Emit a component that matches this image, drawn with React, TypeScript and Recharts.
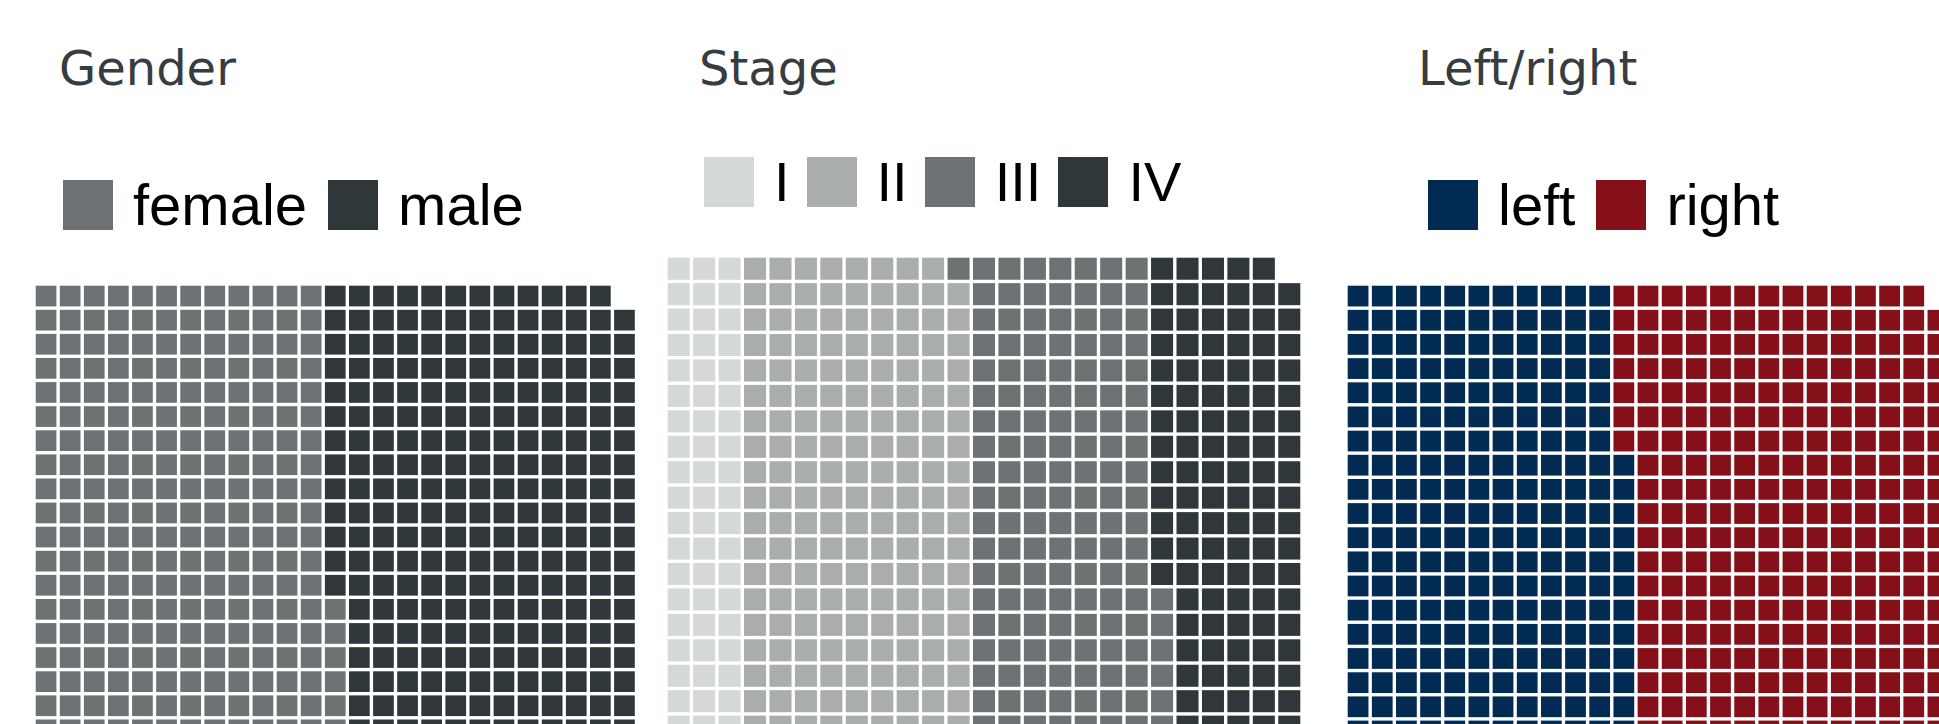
import { Scatter, ScatterChart, XAxis, YAxis } from "recharts";

// waffle grid: 25 x 25, filled bottom-up, column by column, left to right
const ROWS = 25;
const COLS = 25;
const GAP = 3.4;

const genderLabels = ["female", "male"];
const genderCounts = [312, 312];
const genderColors = ["#6d7274", "#30373a"];

const stageLabels = ["I", "II", "III", "IV"];
const stageCounts = [75, 224, 188, 137];
const stageColors = ["#d5d8d8", "#a9adae", "#6d7274", "#30373a"];

const sideLabels = ["left", "right"];
const sideCounts = [293, 331];
const sideColors = ["#022b54", "#85101a"];

interface Cell {
  col: number;
  row: number;
}

function buildCells(counts: number[]): Cell[][] {
  let i = 0;
  return counts.map((n) => {
    const pts: Cell[] = [];
    for (let k = 0; k < n; k++) {
      pts.push({ col: Math.floor(i / ROWS), row: ROWS - 1 - (i % ROWS) });
      i++;
    }
    return pts;
  });
}

interface WaffleProps {
  title: string;
  labels: string[];
  counts: number[];
  colors: string[];
  titleLeft: number;
  legendLeft: number;
  legendTop: number;
  legendFont: number;
  itemGap: number;
  gridLeft: number;
  gridTop: number;
  pitch: number;
}

function Waffle({
  title,
  labels,
  counts,
  colors,
  titleLeft,
  legendLeft,
  legendTop,
  legendFont,
  itemGap,
  gridLeft,
  gridTop,
  pitch,
}: WaffleProps) {
  const cells = buildCells(counts);
  const size = pitch - GAP;
  const square = (props: any) => {
    const { cx, cy, fill } = props;
    return <rect x={cx - size / 2} y={cy - size / 2} width={size} height={size} fill={fill} />;
  };

  return (
    <>
      <div
        style={{
          position: "absolute",
          left: titleLeft,
          top: 44,
          fontFamily: "DejaVu Sans",
          fontSize: 48,
          lineHeight: 1,
          color: "#363c3f",
          whiteSpace: "nowrap",
        }}
      >
        {title}
      </div>
      <div
        style={{
          position: "absolute",
          left: legendLeft,
          top: legendTop,
          height: 50,
          display: "flex",
          alignItems: "center",
          fontFamily: "Liberation Sans",
          fontSize: legendFont,
          color: "#000",
          whiteSpace: "nowrap",
        }}
      >
        {labels.map((label, i) => (
          <div key={label} style={{ display: "flex", alignItems: "center", marginRight: itemGap }}>
            <div style={{ width: 50, height: 50, background: colors[i], marginRight: 20 }} />
            <span style={{ lineHeight: 1 }}>{label}</span>
          </div>
        ))}
      </div>
      <div style={{ position: "absolute", left: gridLeft - GAP / 2, top: gridTop - GAP / 2 }}>
        <ScatterChart
          width={COLS * pitch}
          height={ROWS * pitch}
          margin={{ top: 0, right: 0, bottom: 0, left: 0 }}
        >
          <XAxis type="number" dataKey="col" domain={[-0.5, COLS - 0.5]} hide />
          <YAxis type="number" dataKey="row" domain={[-0.5, ROWS - 0.5]} reversed hide />
          {cells.map((pts, i) => (
            <Scatter
              key={labels[i]}
              name={labels[i]}
              data={pts}
              fill={colors[i]}
              shape={square}
              isAnimationActive={false}
            />
          ))}
        </ScatterChart>
      </div>
    </>
  );
}

export default function App() {
  return (
    <div
      style={{
        position: "absolute",
        left: 0,
        top: 0,
        width: 1939,
        height: 724,
        overflow: "hidden",
        background: "#fff",
      }}
    >
      <Waffle
        title="Gender"
        labels={genderLabels}
        counts={genderCounts}
        colors={genderColors}
        titleLeft={59}
        legendLeft={63}
        legendTop={180}
        legendFont={58}
        itemGap={21}
        gridLeft={36}
        gridTop={286}
        pitch={24.1}
      />
      <Waffle
        title="Stage"
        labels={stageLabels}
        counts={stageCounts}
        colors={stageColors}
        titleLeft={699}
        legendLeft={704}
        legendTop={157}
        legendFont={56}
        itemGap={17}
        gridLeft={668}
        gridTop={258}
        pitch={25.44}
      />
      <Waffle
        title="Left/right"
        labels={sideLabels}
        counts={sideCounts}
        colors={sideColors}
        titleLeft={1418}
        legendLeft={1428}
        legendTop={180}
        legendFont={58}
        itemGap={21}
        gridLeft={1348}
        gridTop={286}
        pitch={24.16}
      />
    </div>
  );
}
